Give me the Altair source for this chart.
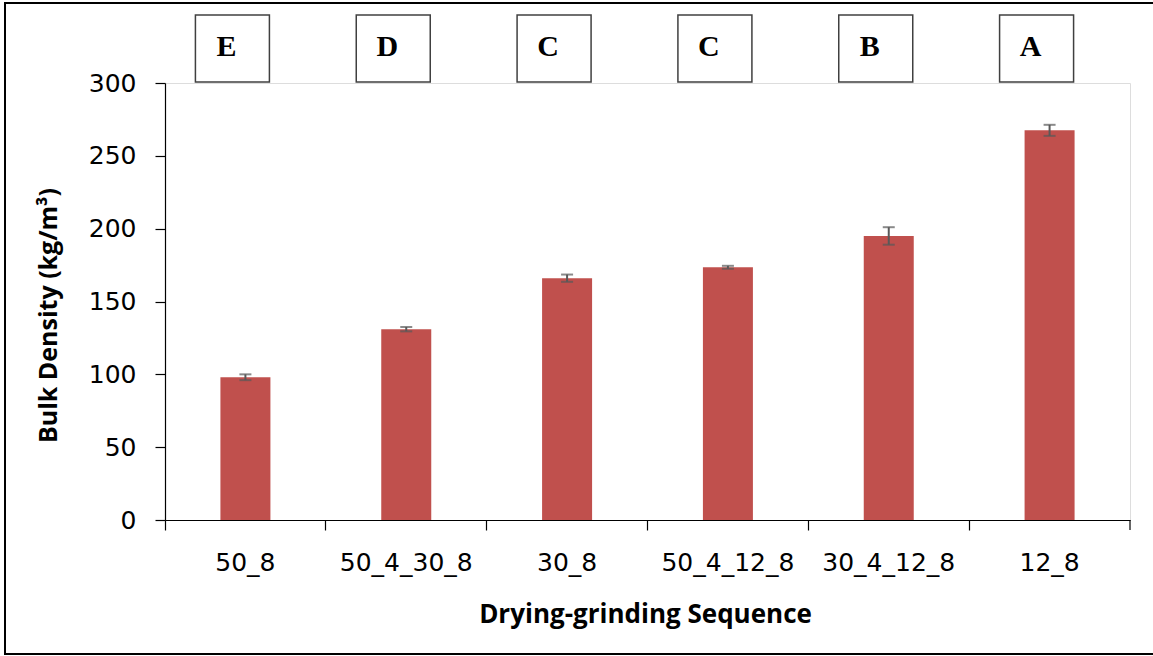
import altair as alt
import pandas as pd

# Drying-grinding sequences and measured bulk density (kg/m3)
categories = ["50_8", "50_4_30_8", "30_8", "50_4_12_8", "30_4_12_8", "12_8"]
density = [98, 131, 166, 173.5, 195, 267.5]
std_dev = [2, 1.5, 2.5, 1, 6, 3.8]
letters = ["E", "D", "C", "C", "B", "A"]

W, H = 965, 437

df = pd.DataFrame({
    "seq": categories,
    "density": density,
    "lo": [d - s for d, s in zip(density, std_dev)],
    "hi": [d + s for d, s in zip(density, std_dev)],
    "letter": letters,
})

y_title = "Bulk Density (kg/m³)"

x_enc = alt.X(
    "seq:N",
    sort=categories,
    scale=alt.Scale(paddingInner=0, paddingOuter=0),
    axis=alt.Axis(
        title="Drying-grinding Sequence",
        labelAngle=0,
        bandPosition=0,
        tickSize=10,
        labelPadding=20,
        labelFont="DejaVu Sans",
        labelFontSize=25,
        labelColor="black",
        titleFont="Open Sans",
        titleFontSize=26,
        titleFontWeight="bold",
        titleColor="black",
        titleY=81,
        titleX=480,
        domainColor="black",
        tickColor="black",
        domainWidth=1.2,
        tickWidth=1.2,
    ),
)

y_axis = alt.Axis(
    title=y_title,
    values=[0, 50, 100, 150, 200, 250, 300],
    grid=False,
    tickSize=10,
    labelPadding=19,
    labelFont="DejaVu Sans",
    labelFontSize=25,
    labelColor="black",
    titleFont="Open Sans",
    titleFontSize=25,
    titleFontWeight="bold",
    titleColor="black",
    titleX=-104,
    titleY=232,
    domainColor="black",
    tickColor="black",
    domainWidth=1.2,
    tickWidth=1.2,
)
y_scale = alt.Scale(domain=[0, 300], nice=False)

base = alt.Chart(df)

bars = base.mark_bar(color="#C0504D", width=50).encode(
    x=x_enc,
    y=alt.Y("density:Q", scale=y_scale, axis=y_axis),
)

err_rule = base.mark_rule(color="#595959", strokeWidth=2).encode(
    x=alt.X("seq:N", sort=categories),
    y=alt.Y("lo:Q", scale=y_scale, axis=y_axis),
    y2="hi:Q",
)
cap_lo = base.mark_tick(color="#595959", size=12, thickness=2).encode(
    x=alt.X("seq:N", sort=categories),
    y=alt.Y("lo:Q", scale=y_scale, axis=y_axis),
)
cap_hi = base.mark_tick(color="#595959", size=12, thickness=2).encode(
    x=alt.X("seq:N", sort=categories),
    y=alt.Y("hi:Q", scale=y_scale, axis=y_axis),
)

# significance-letter boxes above the bars
boxes = base.mark_bar(
    fill="white", stroke="#404040", strokeWidth=1.5, width=74, xOffset=-13
).encode(
    x=alt.X("seq:N", sort=categories),
    y=alt.value(-68),
    y2=alt.value(-1),
)
box_text = base.mark_text(
    font="Liberation Serif", fontWeight="bold", fontSize=30,
    dx=-19, baseline="alphabetic", color="black",
).encode(
    x=alt.X("seq:N", sort=categories),
    y=alt.value(-27),
    text="letter:N",
)

one = alt.Chart(pd.DataFrame({"k": [0]}))
end_tick = one.mark_rule(color="black", strokeWidth=1.2).encode(
    x=alt.value(W), y=alt.value(H), y2=alt.value(H + 10)
)
frame = one.mark_rect(fill=None, stroke="black", strokeWidth=2).encode(
    x=alt.value(-160), x2=alt.value(W + 40), y=alt.value(-80), y2=alt.value(H + 134)
)

chart = alt.layer(
    frame, bars, err_rule, cap_lo, cap_hi, boxes, box_text, end_tick
).properties(
    width=W,
    height=H,
    autosize=alt.AutoSizeParams(type="none"),
    padding={"left": 165, "top": 83, "right": 23, "bottom": 136},
).configure_view(stroke=None).configure(background="white")

chart.save("out.html", embed_options={"renderer": "svg", "actions": False})
